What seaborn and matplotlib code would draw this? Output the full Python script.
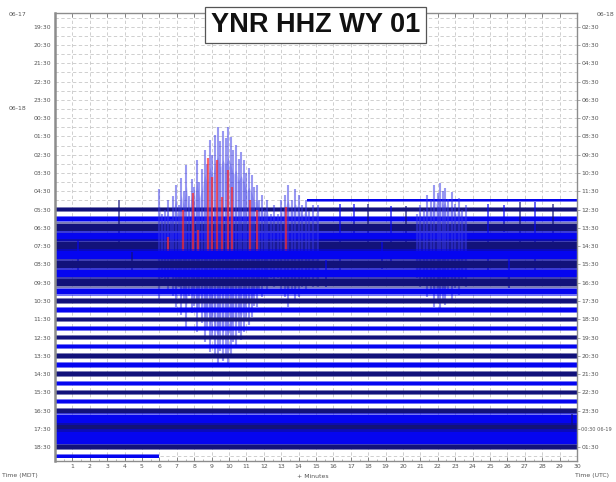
import numpy as np
import matplotlib
matplotlib.use("Agg")
import matplotlib.pyplot as plt
from matplotlib.transforms import blended_transform_factory
import seaborn as sns

# Helicorder with 30-minute lines; row 0 is 19:00 MDT on 06-17, row 48 is 19:00 on 06-18.
left_hours = ["19:30", "20:30", "21:30", "22:30", "23:30", "00:30", "01:30", "02:30",
              "03:30", "04:30", "05:30", "06:30", "07:30", "08:30", "09:30", "10:30",
              "11:30", "12:30", "13:30", "14:30", "15:30", "16:30", "17:30", "18:30"]
right_hours = ["02:30", "03:30", "04:30", "05:30", "06:30", "07:30", "08:30", "09:30",
               "10:30", "11:30", "12:30", "13:30", "14:30", "15:30", "16:30", "17:30",
               "18:30", "19:30", "20:30", "21:30", "22:30", "23:30", "00:30 06-19", "01:30"]
label_rows = [1, 3, 5, 7, 9, 11, 13, 15, 17, 19, 21, 23, 25, 27, 29, 31,
              33, 35, 37, 39, 41, 43, 45, 47]
minutes = [1, 2, 3, 4, 5, 6, 7, 8, 9, 10, 11, 12, 13, 14, 15,
           16, 17, 18, 19, 20, 21, 22, 23, 24, 25, 26, 27, 28, 29, 30]

# Rows holding data: start/end minute and background noise half-height (in rows)
trace_row = [20, 21, 22, 23, 24, 25, 26, 27, 28, 29, 30, 31, 32, 33, 34,
             35, 36, 37, 38, 39, 40, 41, 42, 43, 44, 45, 46, 47, 48]
trace_start = [14.5, 0, 0, 0, 0, 0, 0, 0, 0, 0, 0, 0, 0, 0, 0,
               0, 0, 0, 0, 0, 0, 0, 0, 0, 0, 0, 0, 0, 0]
trace_end = [30, 30, 30, 30, 30, 30, 30, 30, 30, 30, 30, 30, 30, 30, 30,
             30, 30, 30, 30, 30, 30, 30, 30, 30, 30, 30, 30, 30, 6.0]
trace_amp = [0.16, 0.3, 0.32, 0.6, 0.7, 0.75, 0.7, 0.6, 0.62, 0.58, 0.42, 0.34, 0.3, 0.3, 0.3,
             0.32, 0.3, 0.3, 0.3, 0.3, 0.3, 0.3, 0.3, 0.32, 0.8, 0.7, 1.0, 0.34, 0.22]

# Earthquake on the 07:30 line: peak amplitude (rows) of each burst
quake_row = 25
quake_minute = [6.0, 6.15, 6.3, 6.5, 6.65, 6.8, 6.95, 7.1, 7.25, 7.4, 7.55, 7.7, 7.85,
                8.0, 8.15, 8.3, 8.45, 8.6, 8.75, 8.9, 9.05, 9.2, 9.35, 9.5, 9.65, 9.8,
                9.95, 10.1, 10.25, 10.4, 10.55, 10.7, 10.85, 11.0, 11.15, 11.3, 11.45,
                11.6, 11.75, 11.9, 12.05, 12.2, 12.4, 12.6, 12.8, 13.0, 13.2, 13.4,
                13.6, 13.8, 14.0, 14.2, 14.4, 14.6, 14.8, 15.1]
quake_amp = [6.2, 3.5, 4.0, 5.1, 3.0, 5.5, 6.7, 4.5, 7.5, 6.0, 8.9, 5.5, 7.3,
             6.5, 9.4, 7.0, 8.4, 10.5, 9.0, 11.6, 10.0, 12.2, 13.0, 11.5, 12.6, 11.8,
             13.0, 11.9, 10.5, 11.1, 9.5, 10.3, 9.4, 8.0, 8.6, 7.8, 6.5,
             6.7, 5.0, 5.6, 4.0, 5.1, 3.5, 4.5, 3.5, 5.0, 5.6, 6.7,
             5.0, 6.2, 5.6, 4.5, 5.1, 3.8, 4.5, 4.5]

# Later event on the same line
after_minute = [20.8, 21.0, 21.2, 21.4, 21.6, 21.8, 22.0, 22.1, 22.3, 22.4, 22.6,
                22.8, 23.0, 23.2, 23.4, 23.6]
after_amp = [3.5, 4.5, 4.0, 5.6, 5.0, 6.7, 5.8, 6.9, 6.0, 6.4, 5.2,
             5.9, 4.6, 5.3, 4.0, 4.5]

# Clipped samples, shown in red
clip_minute = [6.5, 7.36, 7.93, 8.2, 8.8, 9.0, 9.3, 9.6, 9.94, 10.17, 11.2, 11.6, 13.3]
clip_amp = [1.0, 3.9, 5.8, 1.75, 9.6, 7.6, 9.4, 5.4, 8.3, 6.5, 5.0, 3.9, 4.3]

# Small isolated spikes
minor_row = [23, 24, 22, 23, 24, 23, 24, 22, 23, 24, 23, 45, 26, 27, 28, 26, 28]
minor_minute = [3.7, 16.4, 17.2, 18.0, 19.3, 20.2, 24.9, 25.8, 26.7, 27.6, 28.6, 29.7,
                1.3, 4.4, 15.6, 18.8, 26.1]
minor_amp = [3.0, 3.6, 1.6, 2.6, 3.4, 2.4, 3.6, 1.5, 2.8, 3.8, 2.6, 1.6,
             1.6, 1.4, 1.5, 1.5, 1.6]

NAVY = "#12127a"
BLUE = "#0505f0"
EVENT = "#3535e6"
CLIP = "#ff2a2a"
TXT = "#555555"
FS = 4.4

sns.set_theme(style="white")
plt.rcParams["font.family"] = ["DejaVu Sans"]

fig = plt.figure(figsize=(6.16, 4.82), dpi=100)
ax = fig.add_axes([55 / 616, 21 / 482, 522 / 616, 448 / 482])
ax.set_xlim(0, 30)
ax.set_ylim(48.5, -0.5)

# grid: one dashed line per row and per minute
ax.set_xticks(minutes)
ax.set_xticks(np.arange(0, 30.01, 0.5), minor=True)
ax.set_yticks(label_rows)
ax.set_yticks([r for r in range(0, 49) if r not in label_rows], minor=True)
ax.grid(True, which="major", axis="both", color="#c8c8c8", lw=0.6, ls=(0, (4, 3)))
ax.grid(True, which="minor", axis="y", color="#c8c8c8", lw=0.6, ls=(0, (4, 3)))
ax.set_axisbelow(True)

for r, s, e, a in zip(trace_row, trace_start, trace_end, trace_amp):
    col = NAVY if r % 2 else BLUE
    z = 2 + r * 0.01
    ax.fill_between([s, e], r - a, r + a, color=col, alpha=0.55, lw=0, zorder=z)
    ax.fill_between([s, e], r - 0.65 * a, r + 0.65 * a, color=col, lw=0, zorder=z)
    for mr, mm, ma in zip(minor_row, minor_minute, minor_amp):
        if mr == r:
            ax.vlines(mm, r - ma, r + ma, color=col, lw=1.1, alpha=0.8, zorder=z)
    if r == quake_row:
        qa = np.array(quake_amp)
        ax.fill_between(quake_minute, r - 0.75 * qa, r + 0.75 * qa, color=EVENT,
                        alpha=0.24, lw=0, zorder=z)
        ax.vlines(quake_minute, r - qa, r + qa, color=EVENT, lw=1.5, alpha=0.5, zorder=z)
        aa = np.array(after_amp)
        ax.fill_between(after_minute, r - 0.75 * aa, r + 0.75 * aa, color=EVENT,
                        alpha=0.24, lw=0, zorder=z)
        ax.vlines(after_minute, r - aa, r + aa, color=EVENT, lw=1.5, alpha=0.5, zorder=z)
        ax.vlines(clip_minute, r - np.array(clip_amp), r + 0.5, color=CLIP, lw=1.6,
                  alpha=0.7, zorder=z)

# axes frame and ticks
for side in ["left", "right", "top", "bottom"]:
    ax.spines[side].set_color("#8c8c8c")
    ax.spines[side].set_linewidth(1.0)
ax.spines["left"].set_linewidth(1.8)
ax.tick_params(axis="x", which="major", direction="in", length=3, width=0.6,
               color="#777777", top=True, bottom=True, labelsize=FS,
               labelcolor=TXT, pad=2.5)
ax.tick_params(axis="x", which="minor", direction="in", length=1.5, width=0.5,
               color="#999999", top=False, bottom=True)
ax.set_xticklabels([str(m) for m in minutes])
ax.tick_params(axis="y", which="major", length=0, labelsize=FS, labelcolor=TXT, pad=3)
ax.tick_params(axis="y", which="minor", length=0)
ax.set_yticklabels(left_hours)

ax2 = ax.twinx()
ax2.set_ylim(ax.get_ylim())
ax2.set_yticks(label_rows)
ax2.set_yticklabels(right_hours)
ax2.grid(False)
ax2.tick_params(axis="y", length=2, width=0.5, color="#888888", labelsize=FS,
                labelcolor=TXT, pad=1.0)
for side in ["left", "right", "top", "bottom"]:
    ax2.spines[side].set_visible(False)
# the line carrying the UTC date is longer; keep it inside the figure
ax2.get_yticklabels()[22].set_fontsize(3.6)

# day stamps
trans = blended_transform_factory(ax.transAxes, ax.transData)
ax.text(-0.071, -0.3, "06-17", transform=trans, ha="center", va="center",
        fontsize=FS, color=TXT, clip_on=False)
ax.text(-0.071, 9.9, "06-18", transform=trans, ha="center", va="center",
        fontsize=FS, color=TXT, clip_on=False)
fig.text(614 / 616, 1 - 15 / 482, "06-18", ha="right", va="center",
         fontsize=FS, color=TXT)

fig.text(20 / 616, 1 - 476 / 482, "Time (MDT)", ha="center", va="center",
         fontsize=FS, color=TXT)
fig.text(313 / 616, 1 - 476 / 482, "+ Minutes", ha="center", va="center",
         fontsize=FS, color=TXT)
fig.text(592 / 616, 1 - 476 / 482, "Time (UTC)", ha="center", va="center",
         fontsize=FS, color=TXT)

fig.text(315.5 / 616, 1 - 25 / 482, "YNR HHZ WY 01", ha="center", va="center",
         fontsize=19.5, fontweight="bold", family=["Liberation Sans", "DejaVu Sans"],
         color="#111111",
         bbox=dict(boxstyle="square,pad=0.2", fc="white", ec="#555555", lw=0.9))

fig.savefig("out.png", dpi=100)
